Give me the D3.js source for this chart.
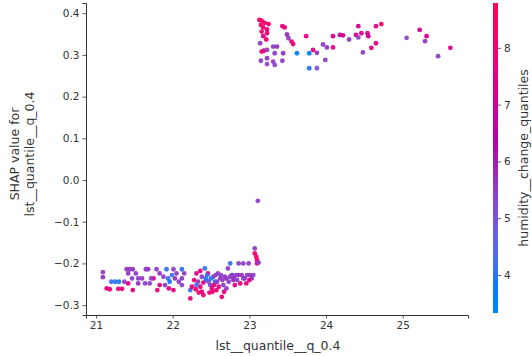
<!DOCTYPE html>
<html>
<head>
<meta charset="utf-8">
<script src="https://cdn.jsdelivr.net/npm/d3@7"></script>
<style>
  html, body { margin: 0; padding: 0; background: #fff; }
  svg { display: block; }
  text { font-family: "DejaVu Sans", sans-serif; fill: #333; }
</style>
</head>
<body>
<svg id="chart" width="532" height="356"></svg>
<script>
// Feature value (x), SHAP value (y) and interaction feature value (colour)
const featureValues = [
  // upper group
  23.13,23.16,23.20,23.25,23.15,23.18,23.23,23.16,23.23,23.18,23.22,23.14,23.43,23.46,23.49,23.51,
  23.55,23.57,23.74,23.16,23.19,23.23,23.31,23.36,23.33,23.44,23.15,23.23,23.23,23.31,23.33,23.43,
  23.62,23.78,23.83,23.88,23.78,23.88,23.99,23.96,24.01,24.09,24.09,24.18,24.22,24.30,24.39,24.42,
  24.42,24.46,24.54,24.55,24.48,24.59,24.65,24.65,24.72,25.05,25.22,25.31,25.29,25.46,25.62,
  // lower group, left part
  21.09,21.09,21.14,21.18,21.25,21.30,21.29,21.34,21.37,21.40,21.44,21.48,21.42,21.47,21.42,21.48,
  21.55,21.55,21.65,21.68,21.64,21.70,21.75,21.79,21.83,21.80,21.83,21.88,21.92,21.94,21.96,21.99,
  22.01,22.03,22.01,22.05,22.12,22.12,22.12,
  21.20,21.52,21.60,21.72,21.90,21.95,22.08,22.15,
  // lower group, right part
  22.23,22.23,22.25,22.31,22.33,22.36,22.38,22.40,22.42,22.44,22.46,22.49,22.51,22.53,22.55,22.57,
  22.59,22.62,22.64,22.66,22.68,22.70,22.72,22.75,22.77,22.79,22.81,22.83,22.86,22.88,22.90,22.92,
  22.94,22.96,22.99,23.01,23.03,23.05,23.07,23.07,23.09,23.10,23.10,23.12,23.11,
  22.28,22.30,22.34,22.38,22.40,22.43,22.45,22.47,22.50,22.52,22.54,22.56,22.58,22.60,22.63,22.65,
  22.67,22.70,22.73,22.75,22.78,22.80,22.84,22.86,22.92,22.97,23.00,22.36,22.31,22.48
];
const shapValues = [
  0.384,0.382,0.377,0.374,0.372,0.366,0.361,0.356,0.352,0.345,0.337,0.328,0.369,0.366,0.349,0.340,
  0.332,0.326,0.345,0.308,0.310,0.312,0.320,0.320,0.304,0.304,0.286,0.292,0.278,0.284,0.276,0.286,
  0.304,0.304,0.312,0.305,0.268,0.268,0.288,0.325,0.318,0.318,0.345,0.348,0.347,0.337,0.348,0.369,
  0.342,0.352,0.352,0.345,0.306,0.317,0.328,0.369,0.374,0.341,0.360,0.345,0.333,0.297,0.317,
  -0.221,-0.233,-0.260,-0.262,-0.244,-0.244,-0.261,-0.261,-0.244,-0.214,-0.214,-0.214,-0.224,-0.236,-0.248,-0.264,
  -0.236,-0.248,-0.214,-0.214,-0.248,-0.248,-0.236,-0.214,-0.224,-0.264,-0.252,-0.232,-0.214,-0.236,-0.244,-0.228,
  -0.214,-0.236,-0.264,-0.224,-0.214,-0.236,-0.252,
  -0.244,-0.224,-0.236,-0.236,-0.252,-0.260,-0.244,-0.224,
  -0.264,-0.284,-0.256,-0.224,-0.244,-0.256,-0.268,-0.276,-0.212,-0.240,-0.224,-0.252,-0.260,-0.232,-0.244,-0.264,
  -0.224,-0.236,-0.280,-0.252,-0.232,-0.260,-0.212,-0.200,-0.228,-0.240,-0.252,-0.228,-0.200,-0.248,-0.228,-0.200,
  -0.236,-0.248,-0.200,-0.228,-0.236,-0.228,-0.164,-0.176,-0.184,-0.192,-0.200,-0.198,-0.050,
  -0.240,-0.262,-0.270,-0.232,-0.246,-0.236,-0.228,-0.244,-0.236,-0.268,-0.252,-0.228,-0.244,-0.256,-0.228,-0.240,
  -0.268,-0.236,-0.244,-0.232,-0.228,-0.236,-0.240,-0.228,-0.236,-0.228,-0.240,-0.218,-0.252,-0.270
];
const humidityValues = [
  8.3,8.5,8.2,8.0,8.4,8.1,7.9,8.3,7.8,7.4,8.0,5.5,7.7,7.9,5.8,5.5,
  7.8,7.6,7.6,8.2,7.8,5.5,5.5,5.7,5.5,5.6,5.4,5.6,5.3,5.5,5.4,5.5,
  3.7,3.8,7.7,5.7,3.9,5.1,5.5,5.5,5.6,7.4,7.3,7.2,7.0,5.5,7.3,7.2,
  5.4,7.4,7.3,7.0,5.5,7.5,7.6,7.6,8.2,5.4,7.2,7.2,5.5,5.5,7.3,
  5.5,5.6,7.6,7.7,4.0,3.9,7.8,7.5,5.5,5.6,5.7,5.5,5.6,5.3,7.6,7.7,
  5.5,5.7,5.5,5.6,5.5,5.4,7.5,5.5,5.6,7.8,7.4,5.5,4.0,4.1,3.9,4.2,
  5.5,5.6,7.6,5.5,4.0,5.5,5.4,
  4.2,5.5,5.6,5.5,5.5,7.7,5.5,5.5,
  4.1,7.8,7.6,7.7,5.5,7.9,8.0,7.8,4.0,3.9,7.6,5.5,7.7,5.5,4.0,7.9,
  5.5,5.7,7.8,5.5,5.6,5.5,5.5,4.0,5.5,5.6,7.6,5.5,5.5,7.7,5.6,5.5,
  5.5,7.8,5.5,5.6,5.5,5.5,5.5,8.0,8.2,8.1,7.9,5.5,5.5,
  7.8,8.1,7.9,5.5,7.5,4.0,4.1,5.0,4.0,7.6,7.8,5.5,5.6,7.4,5.5,5.5,
  7.7,5.6,5.5,5.5,5.4,5.7,5.5,5.6,5.5,5.5,7.5,7.7,4.2,7.8
];

const xTicks = [21, 22, 23, 24, 25];
const yTicks = [-0.3, -0.2, -0.1, 0.0, 0.1, 0.2, 0.3, 0.4];
const colorTicks = [4, 5, 6, 7, 8];

const xLabel = "lst__quantile__q_0.4";
const yLabelLines = ["SHAP value for", "lst__quantile__q_0.4"];
const colorLabel = "humidity__change_quantiles";

const svg = d3.select("#chart");

const plot = { left: 86, right: 468, top: 3, bottom: 315 };

const x = d3.scaleLinear().domain([20.87, 25.85]).range([plot.left, plot.right]);
const y = d3.scaleLinear().domain([-0.3237, 0.4245]).range([plot.bottom, plot.top]);

// Blue-to-red diverging map, interpolated in LCh (lightness dips in the middle)
function redBlue(t) {
  t = Math.max(0, Math.min(1, t));
  const h = 266.93 + t * (380.32 - 266.93);
  const c = 70 + t * 20;
  const l = t < 0.5 ? 54 - 28 * t : 40 + 28 * (t - 0.5);
  return d3.hcl(h % 360, c, l).formatHex();
}

const cDomain = [3.33, 8.79];
const cNorm = d3.scaleLinear().domain(cDomain).range([0, 1]).clamp(true);
const color = v => redBlue(cNorm(v));

const points = featureValues.map((fx, i) => ({ fx, sv: shapValues[i], hv: humidityValues[i] }));

// Points
svg.append("g")
  .selectAll("circle")
  .data(points)
  .join("circle")
  .attr("cx", d => x(d.fx))
  .attr("cy", d => y(d.sv))
  .attr("r", 2.4)
  .attr("fill", d => color(d.hv))
  .attr("fill-opacity", 0.95);

// Axes
const axisColor = "#333";
const xAxis = svg.append("g")
  .attr("transform", `translate(0,${plot.bottom})`)
  .call(d3.axisBottom(x).tickValues(xTicks).tickFormat(d3.format("d")).tickSize(3.5).tickPadding(3));
const yAxis = svg.append("g")
  .attr("transform", `translate(${plot.left},0)`)
  .call(d3.axisLeft(y).tickValues(yTicks)
    .tickFormat(d => (d < 0 ? "\u2212" : "") + Math.abs(d).toFixed(1)).tickSize(3.5).tickPadding(3));

[xAxis, yAxis].forEach(g => {
  g.select(".domain").attr("stroke", axisColor).attr("stroke-width", 1);
  g.selectAll(".tick line").attr("stroke", axisColor).attr("stroke-width", 0.8);
  g.selectAll(".tick text").attr("font-size", 10.5).attr("fill", axisColor)
    .style("font-family", "DejaVu Sans, sans-serif");
});

// Axis titles
svg.append("text")
  .attr("x", (plot.left + plot.right) / 2 + 1)
  .attr("y", 350)
  .attr("text-anchor", "middle")
  .attr("font-size", 12.5)
  .text(xLabel);

const yTitle = svg.append("text")
  .attr("transform", `translate(0,${(plot.top + plot.bottom) / 2 - 5}) rotate(-90)`)
  .attr("text-anchor", "middle")
  .attr("font-size", 12.5);
yTitle.selectAll("tspan")
  .data(yLabelLines)
  .join("tspan")
  .attr("x", 0)
  .attr("y", (d, i) => 19 + i * 15)
  .text(d => d);

// Colour bar
const bar = { x: 493, w: 5, top: 3, bottom: 313 };
const cScale = d3.scaleLinear().domain(cDomain).range([bar.bottom, bar.top]);

const defs = svg.append("defs");
const grad = defs.append("linearGradient")
  .attr("id", "cbar")
  .attr("x1", 0).attr("y1", 1).attr("x2", 0).attr("y2", 0);
d3.range(0, 1.0001, 0.05).forEach(t => {
  grad.append("stop").attr("offset", t).attr("stop-color", redBlue(t));
});

svg.append("rect")
  .attr("x", bar.x).attr("y", bar.top)
  .attr("width", bar.w).attr("height", bar.bottom - bar.top)
  .attr("fill", "url(#cbar)");

const cAxis = svg.append("g")
  .attr("transform", `translate(${bar.x + bar.w},0)`)
  .call(d3.axisRight(cScale).tickValues(colorTicks).tickFormat(d3.format("d")).tickSize(3).tickPadding(3));
cAxis.select(".domain").remove();
cAxis.selectAll(".tick line").attr("stroke", axisColor).attr("stroke-width", 0.8);
cAxis.selectAll(".tick text").attr("font-size", 10.5).attr("fill", axisColor)
  .style("font-family", "DejaVu Sans, sans-serif");

svg.append("text")
  .attr("transform", `translate(528,${(bar.top + bar.bottom) / 2}) rotate(-90)`)
  .attr("text-anchor", "middle")
  .attr("font-size", 12.5)
  .text(colorLabel);
</script>
</body>
</html>
